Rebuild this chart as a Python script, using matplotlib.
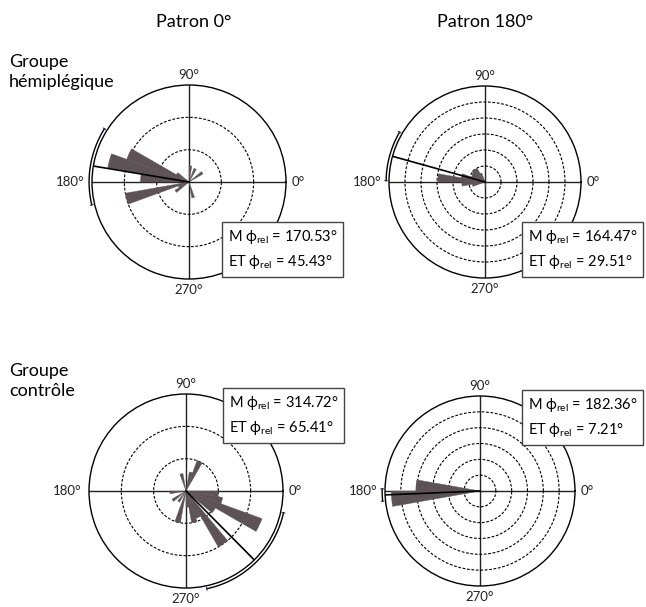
import numpy as np
import matplotlib.pyplot as plt

plt.rcParams['font.family'] = ['Lato', 'DejaVu Sans']
plt.rcParams['mathtext.fontset'] = 'custom'
plt.rcParams['mathtext.rm'] = 'Lato'
plt.rcParams['mathtext.it'] = 'Lato:italic'
plt.rcParams['mathtext.bf'] = 'Lato:bold'

BIN = 10  # bin width in degrees

# Groupe hémiplégique, patron 0°
hemi0_centers = [35, 65, 85, 145, 155, 165, 175, 195, 205, 215, 285]
hemi0_vals = [0.5, 0.45, 0.5, 0.45, 2.05, 2.55, 1.5, 2.0, 0.35, 0.5, 0.5]
hemi0_stats = (170.53, 45.43)

# Groupe hémiplégique, patron 180°
hemi180_centers = [115, 125, 135, 145, 155, 165, 175, 185, 195, 275]
hemi180_vals = [0.6, 1.0, 1.05, 0.95, 0.9, 1.5, 2.95, 1.45, 0.8, 0.3]
hemi180_stats = (164.47, 29.51)

# Groupe contrôle, patron 0°
ctrl0_centers = [65, 75, 105, 185, 215, 235, 255, 275, 285, 295, 305, 325, 335, 345, 355]
ctrl0_vals = [1.0, 0.6, 0.55, 0.5, 0.5, 0.4, 1.0, 0.5, 1.0, 0.9, 2.0, 1.05, 2.5, 1.15, 1.0]
ctrl0_stats = (314.72, 65.41)

# Groupe contrôle, patron 180°
ctrl180_centers = [175, 185]
ctrl180_vals = [4.05, 5.6]
ctrl180_stats = (182.36, 7.21)

angle_labels = ['0°', '90°', '180°', '270°']

W, H = 646, 607
fig = plt.figure(figsize=(W / 100, H / 100), dpi=100)
bar_color = '#5d5356'


def rose(cx, cy, r, centers, vals, rmax, stats):
    ax = fig.add_axes([(cx - r) / W, (H - cy - r) / H, 2 * r / W, 2 * r / H],
                      projection='polar')
    ax.bar(np.deg2rad(centers), vals, width=np.deg2rad(BIN), bottom=0,
           color=bar_color, edgecolor=bar_color, lw=0.3, zorder=2)
    ax.set_ylim(0, rmax)
    ax.set_yticks(np.arange(1, rmax))
    ax.set_yticklabels([])
    ax.yaxis.grid(True, ls=(0, (2.5, 1.5)), color='k', lw=0.8)
    ax.set_xticks(np.deg2rad([0, 90, 180, 270]))
    ax.set_xticklabels([])
    ax.xaxis.grid(True, color='#222', lw=1.0, ls='-')
    ax.spines['polar'].set_linewidth(1.0)

    # angle labels around the circle, offsets in pixels
    offs = [(r + 12, 0), (0, -r - 10), (-r - 22, 0), (0, r + 11)]
    for lab, (dx, dy) in zip(angle_labels, offs):
        fig.text((cx + dx) / W, 1 - (cy + dy) / H, lab, ha='center', va='center',
                 fontsize=9.5, color='#222')

    mean, sd = stats
    m = np.deg2rad(mean)
    ax.plot([m, m], [0, rmax], color='k', lw=1.2, zorder=4)
    # arc of +/- half an SD just outside the circle
    half = sd / 2
    arc = np.deg2rad(np.linspace(mean - half, mean + half, 100))
    ra = rmax * 1.03
    ax.plot(arc, np.full_like(arc, ra), color='k', lw=1.0, clip_on=False, zorder=4)
    for e in (mean - half, mean + half):
        ax.plot([np.deg2rad(e)] * 2, [ra - 0.015 * rmax, ra + 0.015 * rmax],
                color='#2a2a60', lw=0.7, clip_on=False, zorder=4)
    return ax


def stat_box(x, y, stats):
    mean, sd = stats
    txt = ('M ϕ$_{\\mathrm{rel}}$ = %.2f°\nET ϕ$_{\\mathrm{rel}}$ = %.2f°' % (mean, sd))
    fig.text(x / W, 1 - y / H, txt, ha='left', va='top', fontsize=10.5,
             linespacing=1.55, zorder=5,
             bbox=dict(boxstyle='square,pad=0.38', fc='white', ec='#444', lw=1.0))


rose(189, 182, 97, hemi0_centers, hemi0_vals, 3, hemi0_stats)
rose(485, 182, 96, hemi180_centers, hemi180_vals, 6, hemi180_stats)
rose(186, 491, 97, ctrl0_centers, ctrl0_vals, 3, ctrl0_stats)
rose(480, 491, 95, ctrl180_centers, ctrl180_vals, 6, ctrl180_stats)

stat_box(228, 228, hemi0_stats)
stat_box(528, 228, hemi180_stats)
stat_box(229, 394, ctrl0_stats)
stat_box(528, 396, ctrl180_stats)

fig.text(194 / W, 1 - 22 / H, 'Patron 0°', ha='center', va='center', fontsize=13)
fig.text(485 / W, 1 - 22 / H, 'Patron 180°', ha='center', va='center', fontsize=13)
fig.text(9 / W, 1 - 72 / H, 'Groupe\nhémiplégique', ha='left', va='center',
         fontsize=13, linespacing=1.3)
fig.text(9 / W, 1 - 381 / H, 'Groupe\ncontrôle', ha='left', va='center',
         fontsize=13, linespacing=1.3)

fig.savefig('out.png', dpi=100)
